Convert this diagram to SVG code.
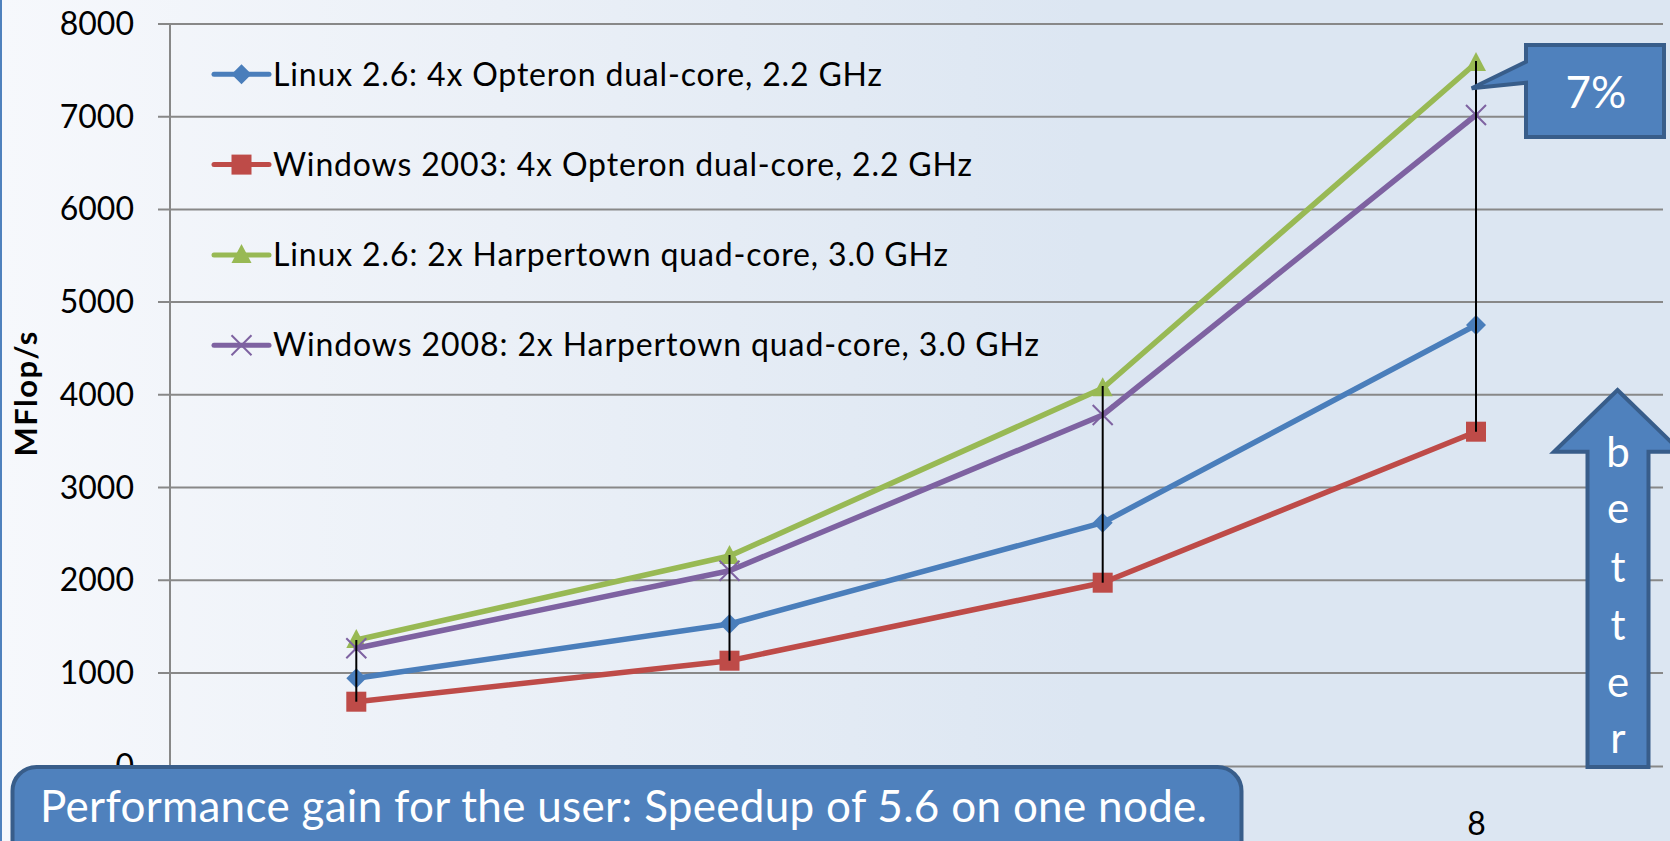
<svg xmlns="http://www.w3.org/2000/svg" width="1670" height="841" viewBox="0 0 1670 841">
  <defs>
    <linearGradient id="bg" x1="0" y1="0" x2="1670" y2="0" gradientUnits="userSpaceOnUse">
      <stop offset="0" stop-color="#F6F8FC"/>
      <stop offset="0.3" stop-color="#EBF0F7"/>
      <stop offset="0.65" stop-color="#DCE6F2"/>
      <stop offset="1" stop-color="#DCE6F2"/>
    </linearGradient>
    <path id="dia" d="M0,-10 L10,0 L0,10 L-10,0 Z" fill="#4A7EBB"/>
    <rect id="sq" x="-10" y="-10" width="20" height="20" fill="#BE4B48"/>
    <path id="tri" d="M0,-11 L10,8 L-10,8 Z" fill="#98B954"/>
    <path id="xm" d="M-10,-10 L10,10 M10,-10 L-10,10" stroke="#7E62A1" stroke-width="2" fill="none"/>
  </defs>
  <style>
    .grid { stroke: #888888; stroke-width: 2; fill: none; }
    .ax { font-family: Lato, "Liberation Sans", sans-serif; font-size: 32px; fill: #000; }
    .leg { font-family: Lato, "Liberation Sans", sans-serif; font-size: 32px; fill: #000; }
    .ser { fill: none; stroke-width: 5.5; stroke-linejoin: round; stroke-linecap: round; }
    .drop { stroke: #000; stroke-width: 2; }
    .shape { fill: #4F81BD; stroke: #385D8A; stroke-width: 4; stroke-linejoin: miter; }
    .wt { font-family: Lato, "Liberation Sans", sans-serif; fill: #FFFFFF; }
  </style>

  <rect x="0" y="0" width="1670" height="841" fill="url(#bg)"/>
  <line x1="1" y1="0" x2="1" y2="841" stroke="#4F81BD" stroke-width="2"/>

  <g id="axes">
    <line class="grid" x1="158" y1="24" x2="1663" y2="24"/>
    <line class="grid" x1="158" y1="116.7" x2="1663" y2="116.7"/>
    <line class="grid" x1="158" y1="209.4" x2="1663" y2="209.4"/>
    <line class="grid" x1="158" y1="302.1" x2="1663" y2="302.1"/>
    <line class="grid" x1="158" y1="394.8" x2="1663" y2="394.8"/>
    <line class="grid" x1="158" y1="487.5" x2="1663" y2="487.5"/>
    <line class="grid" x1="158" y1="580.2" x2="1663" y2="580.2"/>
    <line class="grid" x1="158" y1="672.9" x2="1663" y2="672.9"/>
    <line class="grid" x1="158" y1="766.6" x2="1663" y2="766.6"/>
    <line class="grid" x1="170" y1="24" x2="170" y2="767"/>
    <g class="ax" text-anchor="end">
      <text x="134" y="35">8000</text>
      <text x="134" y="127.7">7000</text>
      <text x="134" y="220.4">6000</text>
      <text x="134" y="313.1">5000</text>
      <text x="134" y="405.8">4000</text>
      <text x="134" y="498.5">3000</text>
      <text x="134" y="591.2">2000</text>
      <text x="134" y="683.9">1000</text>
      <text x="134" y="777">0</text>
    </g>
    <text class="ax" x="1476.5" y="835" text-anchor="middle">8</text>
    <text x="37" y="394" transform="rotate(-90 37 394)" text-anchor="middle" font-family="Lato, 'Liberation Sans', sans-serif" font-weight="bold" font-size="31" textLength="125">MFlop/s</text>
  </g>

  <g id="legend">
    <line x1="214" y1="74.3" x2="269" y2="74.3" stroke="#4A7EBB" stroke-width="5" stroke-linecap="round"/>
    <use href="#dia" x="241.5" y="74.3"/>
    <text class="leg" x="273" y="85.5" textLength="609">Linux 2.6: 4x Opteron dual-core, 2.2 GHz</text>
    <line x1="214" y1="164.6" x2="269" y2="164.6" stroke="#BE4B48" stroke-width="5" stroke-linecap="round"/>
    <use href="#sq" x="241.5" y="164.6"/>
    <text class="leg" x="273" y="175.8" textLength="699">Windows 2003: 4x Opteron dual-core, 2.2 GHz</text>
    <line x1="214" y1="254.9" x2="269" y2="254.9" stroke="#98B954" stroke-width="5" stroke-linecap="round"/>
    <use href="#tri" x="241.5" y="254.9"/>
    <text class="leg" x="273" y="266.1" textLength="675">Linux 2.6: 2x Harpertown quad-core, 3.0 GHz</text>
    <line x1="214" y1="345.2" x2="269" y2="345.2" stroke="#7E62A1" stroke-width="5" stroke-linecap="round"/>
    <use href="#xm" x="241.5" y="345.2"/>
    <text class="leg" x="273" y="356.4" textLength="766">Windows 2008: 2x Harpertown quad-core, 3.0 GHz</text>
  </g>

  <g id="series-linux-opteron">
    <polyline class="ser" stroke="#4A7EBB" points="356.3,678.3 729.5,624 1102.7,522.7 1476,325"/>
    <use href="#dia" x="356.3" y="678.3"/>
    <use href="#dia" x="729.5" y="624"/>
    <use href="#dia" x="1102.7" y="522.7"/>
    <use href="#dia" x="1476" y="325"/>
  </g>
  <g id="series-windows-opteron">
    <polyline class="ser" stroke="#BE4B48" points="356.3,701.7 729.5,660.7 1102.7,582.7 1476,431.7"/>
    <use href="#sq" x="356.3" y="701.7"/>
    <use href="#sq" x="729.5" y="660.7"/>
    <use href="#sq" x="1102.7" y="582.7"/>
    <use href="#sq" x="1476" y="431.7"/>
  </g>
  <g id="series-linux-harpertown">
    <polyline class="ser" stroke="#98B954" points="356.3,640 729.5,556 1102.7,388.3 1476,63"/>
    <use href="#tri" x="356.3" y="640"/>
    <use href="#tri" x="729.5" y="556"/>
    <use href="#tri" x="1102.7" y="388.3"/>
    <use href="#tri" x="1476" y="63"/>
  </g>
  <g id="series-windows-harpertown">
    <polyline class="ser" stroke="#7E62A1" points="356.3,648.3 729.5,570.7 1102.7,415 1476,115"/>
    <use href="#xm" x="356.3" y="648.3"/>
    <use href="#xm" x="729.5" y="570.7"/>
    <use href="#xm" x="1102.7" y="415"/>
    <use href="#xm" x="1476" y="115"/>
  </g>

  <g id="connectors">
    <line class="drop" x1="356.3" y1="640" x2="356.3" y2="701.7"/>
    <line class="drop" x1="729.5" y1="555" x2="729.5" y2="660.7"/>
    <line class="drop" x1="1102.7" y1="386" x2="1102.7" y2="582.7"/>
    <line class="drop" x1="1476" y1="61" x2="1476" y2="431.7"/>
  </g>

  <g id="callout-7">
    <path class="shape" d="M1526,45 L1664,45 L1664,137 L1526,137 L1526,82.7 L1471.7,88.3 L1526,61.7 Z"/>
    <text class="wt" x="1596" y="107.5" font-size="44" text-anchor="middle">7%</text>
  </g>

  <g id="better-arrow">
    <path class="shape" d="M1617.5,390 L1681,451.7 L1648.5,451.7 L1648.5,767 L1587.5,767 L1587.5,451.7 L1554,451.7 Z"/>
    <g class="wt" font-size="42" text-anchor="middle">
      <text x="1618" y="466.7">b</text>
      <text x="1618" y="523.3">e</text>
      <text x="1618" y="581.7">t</text>
      <text x="1618" y="640">t</text>
      <text x="1618" y="696.7">e</text>
      <text x="1618" y="753.3">r</text>
    </g>
  </g>

  <g id="gain-box">
    <rect class="shape" x="12.5" y="767" width="1229" height="110" rx="24" ry="24"/>
    <text class="wt" x="40" y="822" font-size="44" textLength="1167">Performance gain for the user: Speedup of 5.6 on one node.</text>
  </g>
</svg>
